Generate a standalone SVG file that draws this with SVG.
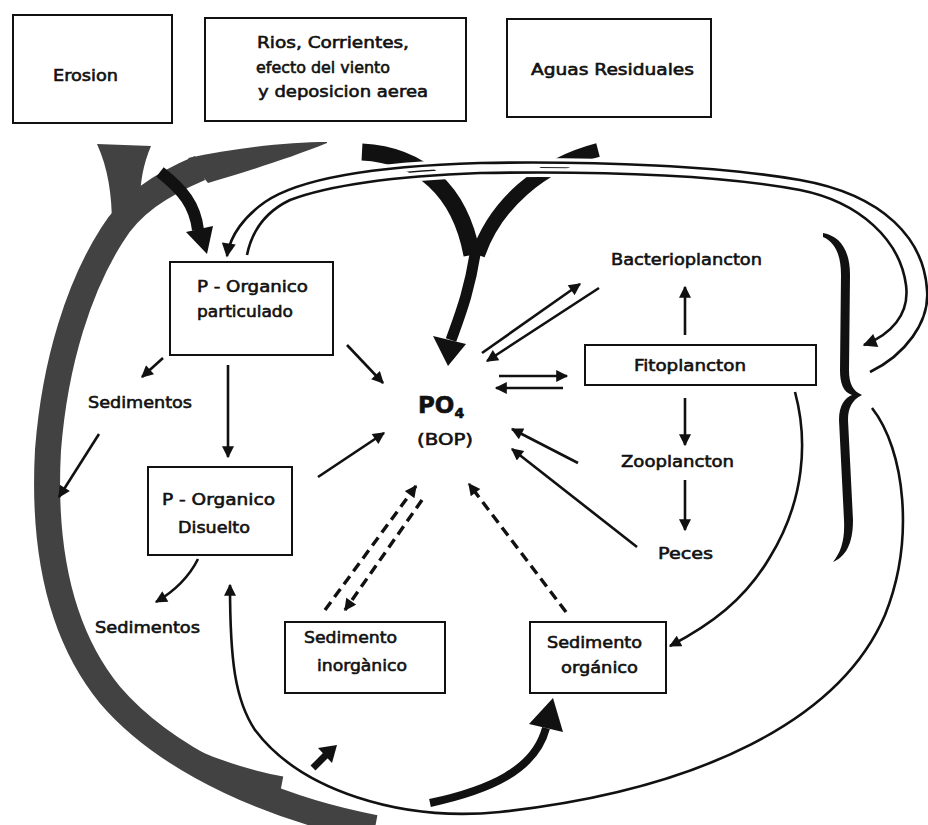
<svg xmlns="http://www.w3.org/2000/svg" width="928" height="825" viewBox="0 0 928 825">
<style>
.box{fill:#fff;stroke:#111;stroke-width:2}
.t{font-family:"DejaVu Sans","Liberation Sans",sans-serif;font-size:16px;fill:#111;stroke:#111;stroke-width:0.6}
.ln{fill:none;stroke:#111;stroke-width:2.6}
.dash{fill:none;stroke:#111;stroke-width:3.4;stroke-dasharray:10 6}
.halo{fill:none;stroke:#fff;stroke-width:9}
.sw{fill:none;stroke:#424242}
.swf{fill:#424242}
.blk{fill:none;stroke:#111}
.hd{fill:#111}
</style>
<defs>
<marker id="ah" viewBox="0 0 10 10" refX="9" refY="5" markerWidth="14" markerHeight="12" markerUnits="userSpaceOnUse" orient="auto"><path d="M0,0 L10,5 L0,10 z" fill="#111"/></marker>
<marker id="ahb" viewBox="0 0 10 10" refX="9" refY="5" markerWidth="16" markerHeight="14" markerUnits="userSpaceOnUse" orient="auto"><path d="M0,0 L10,5 L0,10 z" fill="#111"/></marker>
</defs>
<rect width="928" height="825" fill="#fff"/>
<g id="connectors">
  <!-- big gray swooshes (left arc) -->
  <path class="swf" d="M327,142 C290,142 240,147 188,158 L208,183 C245,172 290,158 327,143 Z"/>
  <path class="sw" stroke-width="26" d="M200,168 C160,185 130,205 112,235 C80,285 55,360 48,450 C42,560 65,640 110,695 C170,765 280,810 375,828"/>
  <path class="swf" d="M97,144 L151,146 C143,165 140,182 140,205 L112,225 C112,195 108,168 97,144 Z"/>
  <path class="sw" stroke-width="13" d="M82,660 C110,720 190,765 282,783"/>
  <!-- black branch to P-Organico particulado -->
  <path class="blk" stroke-width="12" d="M160,172 C183,190 195,205 198,230"/>
  <polygon class="hd" points="186,232 213,226 207,254"/>
  <!-- Y-shaped inflow to PO4 -->
  <path class="blk" stroke-width="17" d="M362,152 C420,155 460,190 472,255"/>
  <path class="blk" stroke-width="14" d="M598,150 C540,165 495,205 478,255"/>
  <path class="blk" stroke-width="11" d="M476,248 C470,290 460,315 451,340"/>
  <polygon class="hd" points="433,336 466,344 448,366"/>
  <!-- double loop lines -->
  <path class="halo" d="M870,372 C905,355 930,322 927,290 C924,240 885,195 800,180 C720,166 600,161 480,163 C380,166 300,178 265,202 C245,216 230,235 227,256"/>
  <path class="halo" d="M247,255 C252,230 265,212 290,200 C330,185 400,176 480,173 C600,171 720,175 800,190 C860,202 900,240 906,285 C910,315 890,335 864,345"/>
  <path class="ln" marker-end="url(#ahb)" d="M870,372 C905,355 930,322 927,290 C924,240 885,195 800,180 C720,166 600,161 480,163 C380,166 300,178 265,202 C245,216 230,235 227,256"/>
  <path class="ln" marker-end="url(#ahb)" d="M247,255 C252,230 265,212 290,200 C330,185 400,176 480,173 C600,171 720,175 800,190 C860,202 900,240 906,285 C910,315 890,335 864,345"/>
  <!-- brace -->
  <path fill="#111" d="M823,233 C840,236 850,250 850,275 L849,370 C849,384 853,391 862,395 C852,400 848,408 848,420 L853,520 C853,545 845,557 833,562 C841,552 845,540 844,520 L839,420 C839,405 845,398 852,395 C843,392 840,383 840,370 L841,275 C841,255 835,242 823,237 Z"/>
  <!-- arrows into PO4 -->
  <path class="ln" marker-end="url(#ah)" d="M347,345 L383,383"/>
  <path class="ln" marker-end="url(#ah)" d="M318,477 L384,433"/>
  <path class="ln" marker-end="url(#ah)" d="M578,463 L512,429"/>
  <path class="ln" marker-end="url(#ah)" d="M637,547 L512,449"/>
  <path class="ln" marker-end="url(#ah)" d="M482,353 L580,284"/>
  <path class="ln" marker-end="url(#ah)" d="M599,288 L487,361"/>
  <path class="ln" marker-end="url(#ah)" d="M499,376 L567,376"/>
  <path class="ln" marker-end="url(#ah)" d="M563,388 L496,388"/>
  <!-- plankton chain -->
  <path class="ln" marker-end="url(#ah)" d="M685,335 L685,287"/>
  <path class="ln" marker-end="url(#ah)" d="M685,398 L685,445"/>
  <path class="ln" marker-end="url(#ah)" d="M685,480 L685,530"/>
  <!-- organic P chain -->
  <path class="ln" stroke-width="3" marker-end="url(#ah)" d="M228,365 L228,457"/>
  <path class="ln" stroke-width="4" marker-end="url(#ah)" d="M163,358 L142,377"/>
  <path class="ln" marker-end="url(#ah)" d="M99,434 L59,497"/>
  <path class="ln" marker-end="url(#ah)" d="M198,559 Q185,585 156,602"/>
  <!-- dashed sediment exchanges -->
  <path class="dash" marker-end="url(#ah)" d="M566,612 L469,484"/>
  <path class="dash" marker-end="url(#ah)" d="M325,610 L416,486"/>
  <path class="dash" marker-end="url(#ah)" d="M422,500 L345,610"/>
  <!-- Fitoplancton to Sedimento organico -->
  <path class="ln" marker-end="url(#ah)" d="M795,392 C808,440 805,500 770,557 C745,600 710,625 670,646"/>
  <!-- long return curve to P-Organico Disuelto -->
  <path class="ln" marker-end="url(#ah)" d="M872,408 C905,450 915,540 885,615 C840,720 700,790 500,812 C400,822 300,790 255,730 C235,700 230,660 230,585"/>
  <!-- thick bottom arrows -->
  <path class="blk" stroke-width="7" d="M313,768 L326,755"/>
  <polygon class="hd" points="337,745 318,748 332,763"/>
  <path class="blk" stroke-width="8" d="M430,803 C490,790 535,770 546,728"/>
  <polygon class="hd" points="553,698 529,724 563,732"/>
</g>
<g id="n-erosion"><rect class="box" x="13" y="15" width="159" height="108"/><text class="t" x="53" y="81" textLength="65" lengthAdjust="spacingAndGlyphs">Erosion</text></g>
<g id="n-rios"><rect class="box" x="205" y="18" width="261" height="103"/>
<text class="t" x="257" y="48" textLength="152" lengthAdjust="spacingAndGlyphs">Rios, Corrientes,</text>
<text class="t" x="256" y="73" textLength="134" lengthAdjust="spacingAndGlyphs">efecto del viento</text>
<text class="t" x="258" y="97" textLength="170" lengthAdjust="spacingAndGlyphs">y deposicion aerea</text></g>
<g id="n-aguas"><rect class="box" x="507" y="19" width="204" height="98"/><text class="t" x="531" y="75" textLength="163" lengthAdjust="spacingAndGlyphs">Aguas Residuales</text></g>
<g id="n-porg-part"><rect class="box" x="170" y="262" width="163" height="93"/>
<text class="t" x="197" y="292" textLength="111" lengthAdjust="spacingAndGlyphs">P - Organico</text>
<text class="t" x="197" y="317" textLength="96" lengthAdjust="spacingAndGlyphs">particulado</text></g>
<g id="n-sed1"><text class="t" x="88" y="408" textLength="104" lengthAdjust="spacingAndGlyphs">Sedimentos</text></g>
<g id="n-porg-dis"><rect class="box" x="148" y="467" width="144" height="88"/>
<text class="t" x="162" y="505" textLength="113" lengthAdjust="spacingAndGlyphs">P - Organico</text>
<text class="t" x="178" y="533" textLength="72" lengthAdjust="spacingAndGlyphs">Disuelto</text></g>
<g id="n-sed2"><text class="t" x="95" y="633" textLength="105" lengthAdjust="spacingAndGlyphs">Sedimentos</text></g>
<g id="n-sed-inorg"><rect class="box" x="285" y="622" width="160" height="71"/>
<text class="t" x="304" y="643" textLength="93" lengthAdjust="spacingAndGlyphs">Sedimento</text>
<text class="t" x="317" y="671" textLength="90" lengthAdjust="spacingAndGlyphs">inorgànico</text></g>
<g id="n-sed-org"><rect class="box" x="530" y="622" width="136" height="71"/>
<text class="t" x="547" y="648" textLength="95" lengthAdjust="spacingAndGlyphs">Sedimento</text>
<text class="t" x="561" y="673" textLength="77" lengthAdjust="spacingAndGlyphs">orgánico</text></g>
<g id="n-po4"><text class="t" x="418" y="413" style="font-size:23px;font-weight:bold">PO<tspan style="font-size:14px" dy="5">4</tspan></text>
<text class="t" x="417" y="445" textLength="56" lengthAdjust="spacingAndGlyphs">(BOP)</text></g>
<g id="n-fito"><rect class="box" x="585" y="345" width="231" height="40"/><text class="t" x="634" y="371" textLength="112" lengthAdjust="spacingAndGlyphs">Fitoplancton</text></g>
<g id="n-bacterio"><text class="t" x="611" y="265" textLength="151" lengthAdjust="spacingAndGlyphs">Bacterioplancton</text></g>
<g id="n-zoo"><text class="t" x="621" y="467" textLength="113" lengthAdjust="spacingAndGlyphs">Zooplancton</text></g>
<g id="n-peces"><text class="t" x="658" y="559" textLength="55" lengthAdjust="spacingAndGlyphs">Peces</text></g>
</svg>
